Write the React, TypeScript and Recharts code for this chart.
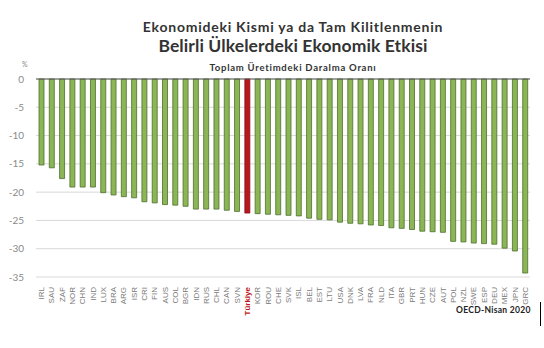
import React from "react";
import { BarChart, Bar, XAxis, YAxis, CartesianGrid, ReferenceLine, Cell } from "recharts";

const countries = [
  "IRL", "SAU", "ZAF", "NOR", "CHN", "IND", "LUX", "BRA", "ARG", "ISR", "CRI", "FIN",
  "AUS", "COL", "BGR", "IDN", "RUS", "CHL", "CAN", "SVN", "Türkiye", "KOR", "ROU", "CHE",
  "SVK", "ISL", "BEL", "EST", "LTU", "USA", "DNK", "LVA", "FRA", "NLD", "ITA", "GBR",
  "PRT", "HUN", "CZE", "AUT", "POL", "NZL", "SWE", "ESP", "DEU", "MEX", "JPN", "GRC",
];

const contraction = [
  -15.2, -15.7, -17.6, -19.1, -19.1, -19.1, -20.1, -20.5, -20.8, -21.0, -21.7, -21.9,
  -22.2, -22.3, -22.5, -23.0, -23.0, -23.0, -23.2, -23.4, -23.7, -23.8, -23.9, -24.0,
  -24.1, -24.2, -24.6, -24.8, -24.9, -25.3, -25.5, -25.6, -25.8, -25.9, -26.3, -26.4,
  -26.6, -26.9, -27.0, -27.1, -28.7, -28.8, -29.0, -29.1, -29.2, -29.9, -30.4, -34.3,
];

const yTicks = [0, -5, -10, -15, -20, -25, -30, -35];

const highlight = "Türkiye";

const data = countries.map((c, i) => ({ country: c, value: contraction[i] }));

const FONT = "Lato, 'DejaVu Sans', sans-serif";
const LABEL_FONT = "'Liberation Sans', Arial, sans-serif";

const XTick = (props: any) => {
  const { x, y, payload } = props;
  const isHi = payload.value === highlight;
  return (
    <g transform={`translate(${x},${y})`}>
      <text
        transform="rotate(-90)"
        x={0}
        y={0}
        dy={3}
        textAnchor="end"
        fontSize={8}
        fontFamily={LABEL_FONT}
        fontWeight={isHi ? 700 : 400}
        fill={isHi ? "#c0151b" : "#7a7a7a"}
      >
        {payload.value}
      </text>
    </g>
  );
};

export default function App() {
  return (
    <div style={{ position: "absolute", left: 0, top: 0, width: 544, height: 348, background: "#fff", fontFamily: FONT }}>
      <div style={{ position: "absolute", left: 0, top: 19, width: 586, textAlign: "center", fontSize: 14, fontWeight: 700, color: "#333", whiteSpace: "nowrap", lineHeight: "16px", letterSpacing: 0.75 }}>
        Ekonomideki Kismi ya da Tam Kilitlenmenin
      </div>
      <div style={{ position: "absolute", left: 0, top: 36, width: 586, textAlign: "center", fontSize: 17.5, fontWeight: 700, color: "#333", whiteSpace: "nowrap", lineHeight: "20px", letterSpacing: 0.1 }}>
        Belirli Ülkelerdeki Ekonomik Etkisi
      </div>
      <div style={{ position: "absolute", left: 0, top: 62, width: 586, textAlign: "center", fontSize: 9.5, fontWeight: 700, color: "#333", whiteSpace: "nowrap", lineHeight: "12px", letterSpacing: 0.75 }}>
        Toplam Üretimdeki Daralma Oranı
      </div>
      <div style={{ position: "absolute", left: 22, top: 59, fontSize: 7, color: "#888", lineHeight: "10px" }}>%</div>
      <BarChart
        width={544}
        height={348}
        data={data}
        margin={{ top: 79, right: 14, left: 0, bottom: 0 }}
        barCategoryGap={0}
      >
        <CartesianGrid vertical={false} stroke="#d9d9d9" strokeWidth={1} />
        <XAxis
          dataKey="country"
          interval={0}
          height={71}
          tickLine={false}
          axisLine={false}
          tick={<XTick />}
          tickMargin={4}
        />
        <YAxis
          width={36}
          domain={[-35, 0]}
          ticks={yTicks}
          interval={0}
          tickLine={false}
          axisLine={false}
          tick={{ fontSize: 10, fill: "#8a8a8a", fontFamily: FONT }}
          tickMargin={6}
        />
        <ReferenceLine y={0} stroke="#555" strokeWidth={1.2} />
        <Bar dataKey="value" barSize={5} isAnimationActive={false} stroke="#4d6e2c" strokeWidth={0.8}>
          {data.map((d) => (
            <Cell
              key={d.country}
              fill={d.country === highlight ? "#b5191f" : "#8cb656"}
              stroke={d.country === highlight ? "#8a1015" : "#4d6e2c"}
            />
          ))}
        </Bar>
      </BarChart>
      <div style={{ position: "absolute", left: 456, top: 305, fontSize: 8.5, fontWeight: 700, color: "#222", whiteSpace: "nowrap", lineHeight: "10px", letterSpacing: 0.3 }}>
        OECD-Nisan 2020
      </div>
      <div style={{ position: "absolute", left: 540, top: 302, width: 1, height: 24, background: "#000" }} />
    </div>
  );
}
